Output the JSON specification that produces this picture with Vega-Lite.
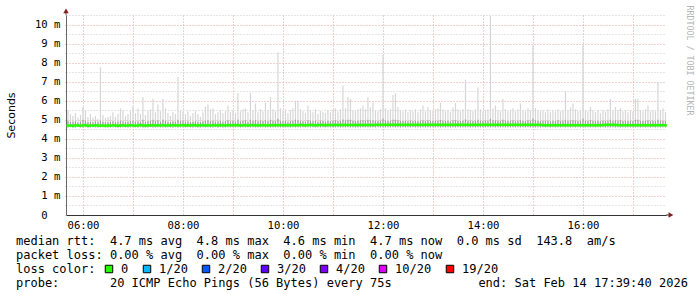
{
"$schema": "https://vega.github.io/schema/vega-lite/v6.json",
"width": 600, "height": 200,
"autosize": {"type": "none"},
"padding": {"left": 66, "top": 15, "right": 31, "bottom": 82},
"background": "white",
"config": {"view": {"stroke": null}},
"title": {"text": ["median rtt:\u00a0\u00a04.7 ms avg\u00a0\u00a04.8 ms max\u00a0\u00a04.6 ms min\u00a0\u00a04.7 ms now\u00a0\u00a00.0 ms sd\u00a0\u00a0143.8\u00a0\u00a0am/s", "packet loss: 0.00 % avg\u00a0\u00a00.00 % max\u00a0\u00a00.00 % min\u00a0\u00a00.00 % now", "\u2060", "probe:\u00a0\u00a0\u00a0\u00a0\u00a0\u00a0\u00a020 ICMP Echo Pings (56 Bytes) every 75s\u00a0\u00a0\u00a0\u00a0\u00a0\u00a0\u00a0\u00a0\u00a0\u00a0\u00a0\u00a0end: Sat Feb 14 17:39:40 2026"],
  "orient": "bottom", "anchor": "start", "frame": "group", "font": "DejaVu Sans Mono", "fontSize": 12, "fontWeight": "normal", "color": "black", "lineHeight": 14, "baseline": "top", "offset": 5, "dx": -50, "dy": -44},
"data": {"values": [
{"t":5.70,"lo":4.60,"m":4.69,"d":4.95,"h":5.50},{"t":5.75,"lo":4.61,"m":4.70,"d":4.88,"h":5.30},{"t":5.80,"lo":4.59,"m":4.68,"d":4.90,"h":5.20},{"t":5.85,"lo":4.60,"m":4.71,"d":4.92,"h":5.35},{"t":5.90,"lo":4.62,"m":4.70,"d":4.86,"h":5.10},{"t":5.95,"lo":4.60,"m":4.69,"d":4.90,"h":5.25},
{"t":6.00,"lo":4.60,"m":4.70,"d":5.00,"h":5.67},{"t":6.05,"lo":4.61,"m":4.72,"d":4.95,"h":5.50},{"t":6.10,"lo":4.59,"m":4.68,"d":4.88,"h":5.15},{"t":6.15,"lo":4.60,"m":4.70,"d":4.90,"h":5.30},{"t":6.20,"lo":4.61,"m":4.69,"d":4.87,"h":5.10},{"t":6.25,"lo":4.60,"m":4.71,"d":4.92,"h":5.20},{"t":6.30,"lo":4.59,"m":4.70,"d":4.89,"h":5.05},{"t":6.35,"lo":4.60,"m":4.69,"d":4.95,"h":7.76},{"t":6.40,"lo":4.61,"m":4.70,"d":4.90,"h":5.25},{"t":6.45,"lo":4.60,"m":4.68,"d":4.86,"h":5.10},{"t":6.50,"lo":4.59,"m":4.70,"d":4.88,"h":5.15},{"t":6.55,"lo":4.60,"m":4.69,"d":4.90,"h":5.20},{"t":6.60,"lo":4.61,"m":4.71,"d":4.92,"h":5.40},{"t":6.65,"lo":4.60,"m":4.70,"d":4.87,"h":5.15},{"t":6.70,"lo":4.59,"m":4.68,"d":4.90,"h":5.30},{"t":6.75,"lo":4.60,"m":4.70,"d":4.95,"h":5.60},{"t":6.80,"lo":4.61,"m":4.71,"d":4.92,"h":5.50},{"t":6.85,"lo":4.60,"m":4.69,"d":4.88,"h":5.20},{"t":6.90,"lo":4.59,"m":4.70,"d":4.90,"h":5.30},{"t":6.95,"lo":4.60,"m":4.71,"d":4.93,"h":5.45},
{"t":7.00,"lo":4.61,"m":4.70,"d":4.95,"h":5.70},{"t":7.05,"lo":4.60,"m":4.69,"d":4.90,"h":5.35},{"t":7.10,"lo":4.60,"m":4.70,"d":4.92,"h":5.60},{"t":7.15,"lo":4.61,"m":4.72,"d":4.90,"h":5.30},{"t":7.20,"lo":4.60,"m":4.70,"d":5.00,"h":6.20},{"t":7.25,"lo":4.59,"m":4.69,"d":4.88,"h":5.25},{"t":7.30,"lo":4.60,"m":4.71,"d":4.92,"h":5.45},{"t":7.35,"lo":4.61,"m":4.70,"d":4.95,"h":5.55},{"t":7.40,"lo":4.60,"m":4.72,"d":5.00,"h":6.10},{"t":7.45,"lo":4.60,"m":4.70,"d":4.93,"h":5.40},{"t":7.50,"lo":4.61,"m":4.71,"d":4.98,"h":5.80},{"t":7.55,"lo":4.60,"m":4.70,"d":4.90,"h":5.45},{"t":7.60,"lo":4.59,"m":4.72,"d":5.00,"h":6.10},{"t":7.65,"lo":4.60,"m":4.70,"d":4.95,"h":5.60},{"t":7.70,"lo":4.61,"m":4.71,"d":4.90,"h":5.35},{"t":7.75,"lo":4.60,"m":4.70,"d":4.88,"h":5.20},{"t":7.80,"lo":4.60,"m":4.72,"d":4.92,"h":5.40},{"t":7.85,"lo":4.61,"m":4.71,"d":4.90,"h":5.30},{"t":7.90,"lo":4.60,"m":4.70,"d":5.00,"h":7.24},{"t":7.95,"lo":4.60,"m":4.71,"d":4.93,"h":5.50},
{"t":8.00,"lo":4.61,"m":4.72,"d":4.95,"h":5.45},{"t":8.05,"lo":4.60,"m":4.70,"d":4.90,"h":5.30},{"t":8.10,"lo":4.61,"m":4.71,"d":4.92,"h":5.45},{"t":8.15,"lo":4.60,"m":4.70,"d":4.88,"h":5.20},{"t":8.20,"lo":4.60,"m":4.72,"d":4.90,"h":5.35},{"t":8.25,"lo":4.61,"m":4.71,"d":4.93,"h":5.45},{"t":8.30,"lo":4.60,"m":4.70,"d":4.90,"h":5.30},{"t":8.35,"lo":4.60,"m":4.71,"d":4.88,"h":5.15},{"t":8.40,"lo":4.61,"m":4.72,"d":4.92,"h":5.40},{"t":8.45,"lo":4.60,"m":4.70,"d":4.95,"h":5.70},{"t":8.50,"lo":4.61,"m":4.71,"d":4.97,"h":5.80},{"t":8.55,"lo":4.60,"m":4.70,"d":4.93,"h":5.55},{"t":8.60,"lo":4.60,"m":4.72,"d":4.95,"h":5.60},{"t":8.65,"lo":4.61,"m":4.71,"d":4.90,"h":5.30},{"t":8.70,"lo":4.60,"m":4.70,"d":4.92,"h":5.40},{"t":8.75,"lo":4.61,"m":4.72,"d":4.95,"h":5.50},{"t":8.80,"lo":4.60,"m":4.71,"d":4.90,"h":5.35},{"t":8.85,"lo":4.60,"m":4.70,"d":4.93,"h":5.45},{"t":8.90,"lo":4.61,"m":4.72,"d":4.97,"h":5.75},{"t":8.95,"lo":4.60,"m":4.71,"d":4.92,"h":5.40},
{"t":9.00,"lo":4.61,"m":4.72,"d":4.95,"h":5.50},{"t":9.05,"lo":4.60,"m":4.71,"d":4.90,"h":5.35},{"t":9.10,"lo":4.61,"m":4.72,"d":5.00,"h":6.40},{"t":9.15,"lo":4.60,"m":4.70,"d":4.92,"h":5.45},{"t":9.20,"lo":4.61,"m":4.71,"d":4.95,"h":5.55},{"t":9.25,"lo":4.60,"m":4.72,"d":4.97,"h":5.60},{"t":9.30,"lo":4.61,"m":4.70,"d":4.90,"h":5.40},{"t":9.35,"lo":4.60,"m":4.72,"d":5.00,"h":6.40},{"t":9.40,"lo":4.61,"m":4.71,"d":4.95,"h":5.50},{"t":9.45,"lo":4.60,"m":4.72,"d":4.98,"h":5.85},{"t":9.50,"lo":4.61,"m":4.70,"d":4.92,"h":5.40},{"t":9.55,"lo":4.60,"m":4.71,"d":4.95,"h":5.55},{"t":9.60,"lo":4.61,"m":4.72,"d":4.93,"h":5.45},{"t":9.65,"lo":4.60,"m":4.71,"d":4.97,"h":5.90},{"t":9.70,"lo":4.61,"m":4.70,"d":4.92,"h":5.50},{"t":9.75,"lo":4.60,"m":4.72,"d":5.00,"h":6.20},{"t":9.80,"lo":4.61,"m":4.71,"d":4.95,"h":5.55},{"t":9.85,"lo":4.60,"m":4.72,"d":4.93,"h":5.45},{"t":9.90,"lo":4.61,"m":4.71,"d":5.05,"h":8.55},{"t":9.95,"lo":4.60,"m":4.72,"d":4.95,"h":5.60},
{"t":10.00,"lo":4.61,"m":4.71,"d":4.92,"h":5.45},{"t":10.05,"lo":4.60,"m":4.72,"d":4.95,"h":5.55},{"t":10.10,"lo":4.61,"m":4.70,"d":4.90,"h":5.35},{"t":10.15,"lo":4.60,"m":4.72,"d":4.93,"h":5.50},{"t":10.20,"lo":4.61,"m":4.71,"d":4.95,"h":5.60},{"t":10.25,"lo":4.60,"m":4.72,"d":5.00,"h":6.00},{"t":10.30,"lo":4.61,"m":4.71,"d":4.98,"h":6.00},{"t":10.35,"lo":4.60,"m":4.73,"d":4.95,"h":5.55},{"t":10.40,"lo":4.61,"m":4.72,"d":4.92,"h":5.45},{"t":10.45,"lo":4.60,"m":4.71,"d":4.90,"h":5.35},{"t":10.50,"lo":4.61,"m":4.72,"d":4.97,"h":5.75},{"t":10.55,"lo":4.60,"m":4.73,"d":4.95,"h":5.50},{"t":10.60,"lo":4.61,"m":4.72,"d":4.92,"h":5.40},{"t":10.65,"lo":4.60,"m":4.71,"d":4.95,"h":5.55},{"t":10.70,"lo":4.61,"m":4.72,"d":4.90,"h":5.30},{"t":10.75,"lo":4.60,"m":4.73,"d":4.95,"h":5.46},{"t":10.80,"lo":4.61,"m":4.72,"d":4.93,"h":5.40},{"t":10.85,"lo":4.60,"m":4.71,"d":4.90,"h":5.35},{"t":10.90,"lo":4.61,"m":4.73,"d":4.95,"h":5.50},{"t":10.95,"lo":4.60,"m":4.72,"d":4.92,"h":5.40},
{"t":11.00,"lo":4.61,"m":4.72,"d":4.95,"h":5.55},{"t":11.05,"lo":4.60,"m":4.73,"d":4.97,"h":5.60},{"t":11.10,"lo":4.61,"m":4.72,"d":4.93,"h":5.45},{"t":11.15,"lo":4.60,"m":4.73,"d":4.95,"h":5.55},{"t":11.20,"lo":4.61,"m":4.72,"d":5.02,"h":6.80},{"t":11.25,"lo":4.60,"m":4.73,"d":4.97,"h":5.60},{"t":11.30,"lo":4.61,"m":4.72,"d":5.00,"h":6.20},{"t":11.35,"lo":4.60,"m":4.73,"d":5.00,"h":6.10},{"t":11.40,"lo":4.61,"m":4.72,"d":4.95,"h":5.50},{"t":11.45,"lo":4.60,"m":4.73,"d":4.93,"h":5.45},{"t":11.50,"lo":4.61,"m":4.72,"d":4.95,"h":5.55},{"t":11.55,"lo":4.60,"m":4.73,"d":4.97,"h":5.60},{"t":11.60,"lo":4.61,"m":4.72,"d":4.98,"h":5.75},{"t":11.65,"lo":4.60,"m":4.73,"d":4.95,"h":5.55},{"t":11.70,"lo":4.61,"m":4.72,"d":5.00,"h":6.20},{"t":11.75,"lo":4.60,"m":4.73,"d":4.97,"h":5.65},{"t":11.80,"lo":4.61,"m":4.72,"d":4.98,"h":5.90},{"t":11.85,"lo":4.60,"m":4.73,"d":4.95,"h":5.50},{"t":11.90,"lo":4.61,"m":4.74,"d":4.93,"h":5.45},{"t":11.95,"lo":4.60,"m":4.73,"d":4.95,"h":5.55},
{"t":12.00,"lo":4.61,"m":4.74,"d":5.05,"h":8.40},{"t":12.05,"lo":4.60,"m":4.73,"d":4.97,"h":5.60},{"t":12.10,"lo":4.61,"m":4.74,"d":4.95,"h":5.50},{"t":12.15,"lo":4.60,"m":4.73,"d":4.95,"h":5.55},{"t":12.20,"lo":4.61,"m":4.74,"d":5.00,"h":6.30},{"t":12.25,"lo":4.60,"m":4.73,"d":5.00,"h":6.40},{"t":12.30,"lo":4.61,"m":4.74,"d":4.97,"h":5.67},{"t":12.35,"lo":4.60,"m":4.73,"d":4.95,"h":5.50},{"t":12.40,"lo":4.61,"m":4.74,"d":4.93,"h":5.45},{"t":12.45,"lo":4.60,"m":4.73,"d":4.95,"h":5.55},{"t":12.50,"lo":4.61,"m":4.74,"d":4.92,"h":5.40},{"t":12.55,"lo":4.60,"m":4.73,"d":4.95,"h":5.50},{"t":12.60,"lo":4.61,"m":4.74,"d":4.93,"h":5.45},{"t":12.65,"lo":4.60,"m":4.73,"d":4.95,"h":5.55},{"t":12.70,"lo":4.61,"m":4.74,"d":4.92,"h":5.40},{"t":12.75,"lo":4.60,"m":4.73,"d":4.95,"h":5.55},{"t":12.80,"lo":4.61,"m":4.74,"d":4.97,"h":5.75},{"t":12.85,"lo":4.60,"m":4.73,"d":4.93,"h":5.45},{"t":12.90,"lo":4.61,"m":4.74,"d":4.97,"h":5.67},{"t":12.95,"lo":4.60,"m":4.73,"d":4.95,"h":5.50},
{"t":13.00,"lo":4.61,"m":4.74,"d":4.93,"h":5.45},{"t":13.05,"lo":4.60,"m":4.73,"d":4.95,"h":5.55},{"t":13.10,"lo":4.61,"m":4.74,"d":4.95,"h":5.60},{"t":13.15,"lo":4.60,"m":4.73,"d":4.98,"h":5.90},{"t":13.20,"lo":4.61,"m":4.74,"d":4.95,"h":5.55},{"t":13.25,"lo":4.60,"m":4.73,"d":4.93,"h":5.45},{"t":13.30,"lo":4.61,"m":4.74,"d":4.95,"h":5.50},{"t":13.35,"lo":4.60,"m":4.73,"d":4.92,"h":5.40},{"t":13.40,"lo":4.61,"m":4.74,"d":4.97,"h":5.65},{"t":13.45,"lo":4.60,"m":4.73,"d":4.98,"h":5.88},{"t":13.50,"lo":4.61,"m":4.74,"d":4.95,"h":5.55},{"t":13.55,"lo":4.60,"m":4.73,"d":4.93,"h":5.45},{"t":13.60,"lo":4.61,"m":4.74,"d":4.95,"h":5.55},{"t":13.65,"lo":4.60,"m":4.73,"d":5.02,"h":7.10},{"t":13.70,"lo":4.61,"m":4.74,"d":4.95,"h":5.55},{"t":13.75,"lo":4.60,"m":4.73,"d":4.95,"h":5.50},{"t":13.80,"lo":4.61,"m":4.74,"d":4.93,"h":5.45},{"t":13.85,"lo":4.60,"m":4.73,"d":4.95,"h":5.55},{"t":13.90,"lo":4.61,"m":4.74,"d":5.00,"h":6.70},{"t":13.95,"lo":4.60,"m":4.73,"d":4.95,"h":5.55},
{"t":14.00,"lo":4.61,"m":4.74,"d":4.93,"h":5.45},{"t":14.05,"lo":4.60,"m":4.73,"d":4.95,"h":5.50},{"t":14.10,"lo":4.61,"m":4.74,"d":4.95,"h":5.55},{"t":14.15,"lo":4.60,"m":4.73,"d":5.05,"h":10.45},{"t":14.20,"lo":4.61,"m":4.74,"d":4.97,"h":5.60},{"t":14.25,"lo":4.60,"m":4.73,"d":4.97,"h":5.75},{"t":14.30,"lo":4.61,"m":4.74,"d":4.95,"h":5.50},{"t":14.35,"lo":4.60,"m":4.73,"d":4.93,"h":5.45},{"t":14.40,"lo":4.61,"m":4.74,"d":5.00,"h":6.10},{"t":14.45,"lo":4.60,"m":4.73,"d":4.95,"h":5.55},{"t":14.50,"lo":4.61,"m":4.74,"d":4.93,"h":5.45},{"t":14.55,"lo":4.60,"m":4.73,"d":4.95,"h":5.50},{"t":14.60,"lo":4.61,"m":4.74,"d":4.97,"h":5.60},{"t":14.65,"lo":4.60,"m":4.73,"d":4.93,"h":5.45},{"t":14.70,"lo":4.61,"m":4.74,"d":4.95,"h":5.55},{"t":14.75,"lo":4.60,"m":4.73,"d":4.98,"h":5.86},{"t":14.80,"lo":4.61,"m":4.74,"d":4.95,"h":5.50},{"t":14.85,"lo":4.60,"m":4.73,"d":4.93,"h":5.45},{"t":14.90,"lo":4.61,"m":4.74,"d":4.97,"h":5.60},{"t":14.95,"lo":4.60,"m":4.73,"d":4.95,"h":5.50},
{"t":15.00,"lo":4.61,"m":4.74,"d":5.05,"h":8.90},{"t":15.05,"lo":4.60,"m":4.73,"d":4.97,"h":5.62},{"t":15.10,"lo":4.61,"m":4.74,"d":4.95,"h":5.50},{"t":15.15,"lo":4.60,"m":4.73,"d":4.93,"h":5.45},{"t":15.20,"lo":4.61,"m":4.72,"d":4.95,"h":5.50},{"t":15.25,"lo":4.60,"m":4.71,"d":4.93,"h":5.40},{"t":15.30,"lo":4.61,"m":4.72,"d":4.95,"h":5.55},{"t":15.35,"lo":4.60,"m":4.71,"d":4.92,"h":5.40},{"t":15.40,"lo":4.61,"m":4.72,"d":4.95,"h":5.50},{"t":15.45,"lo":4.60,"m":4.71,"d":4.93,"h":5.45},{"t":15.50,"lo":4.61,"m":4.72,"d":4.97,"h":5.55},{"t":15.55,"lo":4.60,"m":4.71,"d":4.93,"h":5.45},{"t":15.60,"lo":4.61,"m":4.72,"d":4.95,"h":5.50},{"t":15.65,"lo":4.60,"m":4.71,"d":5.00,"h":6.50},{"t":15.70,"lo":4.61,"m":4.72,"d":4.95,"h":5.50},{"t":15.75,"lo":4.60,"m":4.71,"d":4.97,"h":5.65},{"t":15.80,"lo":4.61,"m":4.72,"d":4.98,"h":5.85},{"t":15.85,"lo":4.60,"m":4.71,"d":4.95,"h":5.55},{"t":15.90,"lo":4.61,"m":4.72,"d":4.93,"h":5.45},{"t":15.95,"lo":4.60,"m":4.71,"d":4.95,"h":5.50},
{"t":16.00,"lo":4.61,"m":4.72,"d":5.05,"h":8.90},{"t":16.05,"lo":4.60,"m":4.71,"d":4.95,"h":5.50},{"t":16.10,"lo":4.61,"m":4.72,"d":4.93,"h":5.45},{"t":16.15,"lo":4.60,"m":4.71,"d":4.97,"h":5.67},{"t":16.20,"lo":4.61,"m":4.72,"d":4.95,"h":5.50},{"t":16.25,"lo":4.60,"m":4.71,"d":4.93,"h":5.40},{"t":16.30,"lo":4.61,"m":4.72,"d":4.95,"h":5.50},{"t":16.35,"lo":4.60,"m":4.71,"d":4.92,"h":5.35},{"t":16.40,"lo":4.61,"m":4.72,"d":4.95,"h":5.50},{"t":16.45,"lo":4.60,"m":4.73,"d":4.93,"h":5.45},{"t":16.50,"lo":4.61,"m":4.74,"d":4.95,"h":5.55},{"t":16.55,"lo":4.60,"m":4.73,"d":5.00,"h":6.10},{"t":16.60,"lo":4.61,"m":4.74,"d":4.95,"h":5.50},{"t":16.65,"lo":4.60,"m":4.73,"d":4.97,"h":5.67},{"t":16.70,"lo":4.61,"m":4.72,"d":4.95,"h":5.50},{"t":16.75,"lo":4.60,"m":4.71,"d":4.97,"h":5.60},{"t":16.80,"lo":4.61,"m":4.72,"d":4.93,"h":5.45},{"t":16.85,"lo":4.60,"m":4.71,"d":4.95,"h":5.50},{"t":16.90,"lo":4.61,"m":4.72,"d":4.93,"h":5.40},{"t":16.95,"lo":4.60,"m":4.71,"d":4.95,"h":5.50},
{"t":17.00,"lo":4.61,"m":4.72,"d":4.93,"h":5.45},{"t":17.05,"lo":4.60,"m":4.71,"d":5.00,"h":6.10},{"t":17.10,"lo":4.61,"m":4.72,"d":5.00,"h":6.10},{"t":17.15,"lo":4.60,"m":4.71,"d":4.95,"h":5.50},{"t":17.20,"lo":4.61,"m":4.72,"d":4.93,"h":5.45},{"t":17.25,"lo":4.60,"m":4.71,"d":4.95,"h":5.55},{"t":17.30,"lo":4.61,"m":4.72,"d":4.97,"h":5.75},{"t":17.35,"lo":4.60,"m":4.71,"d":4.93,"h":5.45},{"t":17.40,"lo":4.61,"m":4.72,"d":4.95,"h":5.50},{"t":17.45,"lo":4.60,"m":4.71,"d":4.93,"h":5.45},{"t":17.50,"lo":4.61,"m":4.72,"d":5.00,"h":7.00},{"t":17.55,"lo":4.60,"m":4.71,"d":4.95,"h":5.50},{"t":17.60,"lo":4.61,"m":4.72,"d":4.95,"h":5.60},{"t":17.65,"lo":4.60,"m":4.71,"d":4.93,"h":5.40}
]},
"resolve": {"axis": {"y": "independent"}},
"layer": [
 {"mark": {"type": "rule", "color": "#d6d6d6", "strokeWidth": 1.2},
  "encoding": {
   "x": {"field": "t", "type": "quantitative", "scale": {"domain": [5.661, 17.661], "nice": false, "zero": false},
     "axis": {"title": null, "values": [6,6.5,7,7.5,8,8.5,9,9.5,10,10.5,11,11.5,12,12.5,13,13.5,14,14.5,15,15.5,16,16.5,17,17.5],
       "labelExpr": "datum.value % 2 === 0 ? (datum.value < 10 ? '0' : '') + datum.value + ':00' : ''",
       "gridColor": {"condition": {"test": "datum.value % 1 === 0", "value": "#e3a0a0"}, "value": "#cccccc"},
       "gridDash": [1, 2], "ticks": false, "domainColor": "#333333", "labelFont": "DejaVu Sans Mono", "labelFontSize": 10.6, "labelColor": "black", "labelPadding": 5, "labelOverlap": false}},
   "y": {"field": "lo", "type": "quantitative", "scale": {"domain": [0, 10.5], "nice": false},
     "axis": {"title": "Seconds", "values": [0,0.5,1,1.5,2,2.5,3,3.5,4,4.5,5,5.5,6,6.5,7,7.5,8,8.5,9,9.5,10,10.5],
       "labelExpr": "datum.value % 1 === 0 ? (datum.value === 0 ? '0\u00a0\u00a0\u2060' : datum.value + ' m') : ''",
       "gridColor": {"condition": {"test": "datum.value % 1 === 0", "value": "#e3a0a0"}, "value": "#cccccc"},
       "tickColor": {"condition": {"test": "datum.value % 1 === 0", "value": "#e3a0a0"}, "value": "#cccccc"},
       "gridDash": [1, 2], "tickDash": [1, 2], "tickSize": 3, "domainColor": "#666666", "labelFont": "DejaVu Sans Mono", "labelFontSize": 10.6, "labelColor": "black", "labelPadding": 3, "labelOverlap": false,
       "titleFont": "DejaVu Sans", "titleFontSize": 11, "titleFontWeight": "normal", "titleColor": "black", "titlePadding": 18}},
   "y2": {"field": "h"}
  }},
 {"mark": {"type": "rule", "color": "#a0a0a0", "strokeWidth": 1.2},
  "encoding": {"x": {"field": "t", "type": "quantitative"}, "y": {"field": "lo", "type": "quantitative", "axis": null}, "y2": {"field": "d"}}},
 {"mark": {"type": "tick", "orient": "horizontal", "thickness": 2.5, "size": 3, "opacity": 1},
  "encoding": {"x": {"field": "t", "type": "quantitative"}, "y": {"field": "m", "type": "quantitative", "axis": null},
   "color": {"datum": "0", "type": "nominal",
     "scale": {"domain": ["0", "1/20", "2/20", "3/20", "4/20", "10/20", "19/20"], "range": ["#26ff00", "#00b8ff", "#0059ff", "#5e00ff", "#7e00ff", "#dd00ff", "#ff0000"]},
     "legend": {"orient": "none", "legendX": -50, "legendY": 248, "direction": "horizontal", "title": "loss color:", "titleOrient": "left", "titleFont": "DejaVu Sans Mono", "titleFontSize": 12, "titleFontWeight": "normal", "titleColor": "black", "titlePadding": 7,
       "labelFont": "DejaVu Sans Mono", "labelFontSize": 12, "labelColor": "black", "labelOffset": 6, "columnPadding": 12, "symbolType": "square", "symbolSize": 56, "symbolStrokeColor": "black", "symbolStrokeWidth": 1, "symbolOpacity": 1, "padding": 0}}}},
 {"data": {"values": [{}]}, "mark": {"type": "rule", "color": "#333333"},
  "encoding": {"x": {"datum": 17.661, "type": "quantitative"}, "x2": {"datum": 17.74}, "y": {"datum": 0, "type": "quantitative", "axis": null}}},
 {"data": {"values": [{}]}, "mark": {"type": "rule", "color": "#666666"},
  "encoding": {"x": {"datum": 5.661, "type": "quantitative"}, "y": {"datum": 10.5, "type": "quantitative", "axis": null}, "y2": {"datum": 10.62}}},
 {"data": {"values": [{}]}, "mark": {"type": "point", "shape": "triangle-up", "filled": true, "color": "#7f1f1f", "size": 30, "opacity": 1},
  "encoding": {"x": {"datum": 5.661, "type": "quantitative"}, "y": {"datum": 10.72, "type": "quantitative",
    "axis": {"orient": "right", "labels": false, "ticks": false, "grid": false, "domain": false, "title": "RRDTOOL / TOBI OETIKER", "titleAngle": 90, "titleX": 22, "titleY": -10, "titleAlign": "left", "titleBaseline": "middle", "titleFont": "DejaVu Sans Mono", "titleFontSize": 8.3, "titleFontWeight": "normal", "titleColor": "#b4b4b4"}}}},
 {"data": {"values": [{}]}, "mark": {"type": "point", "shape": "triangle-right", "filled": true, "color": "#7f1f1f", "size": 30, "opacity": 1},
  "encoding": {"x": {"datum": 17.76, "type": "quantitative"}, "y": {"datum": 0, "type": "quantitative", "axis": null}}}
]
}
